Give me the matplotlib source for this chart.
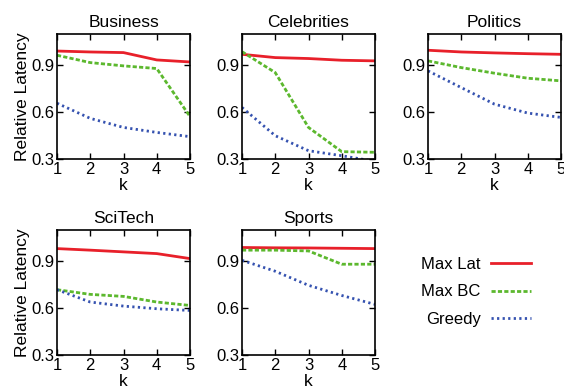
#!/usr/bin/env python3

import matplotlib
matplotlib.use("Agg")
import matplotlib.pyplot as plt
from matplotlib.lines import Line2D

k = [1, 2, 3, 4, 5]
panels = ["Business", "Celebrities", "Politics", "SciTech", "Sports"]

max_lat = {
    "Business": [0.991, 0.985, 0.981, 0.934, 0.921],
    "Celebrities": [0.970, 0.949, 0.943, 0.932, 0.928],
    "Politics": [0.996, 0.985, 0.979, 0.974, 0.970],
    "SciTech": [0.981, 0.971, 0.960, 0.949, 0.917],
    "Sports": [0.988, 0.986, 0.985, 0.983, 0.981],
}
max_bc = {
    "Business": [0.964, 0.917, 0.896, 0.879, 0.572],
    "Celebrities": [0.987, 0.853, 0.502, 0.347, 0.343],
    "Politics": [0.928, 0.885, 0.849, 0.817, 0.800],
    "SciTech": [0.718, 0.688, 0.675, 0.639, 0.617],
    "Sports": [0.971, 0.971, 0.966, 0.881, 0.881],
}
greedy = {
    "Business": [0.657, 0.560, 0.502, 0.470, 0.443],
    "Celebrities": [0.630, 0.449, 0.353, 0.321, 0.285],
    "Politics": [0.864, 0.757, 0.651, 0.594, 0.566],
    "SciTech": [0.718, 0.639, 0.613, 0.596, 0.585],
    "Sports": [0.906, 0.836, 0.746, 0.681, 0.624],
}

series = [
    ("Max Lat", max_lat, "#e8202a", "-", 2.0),
    ("Max BC", max_bc, "#5cb82e", (0, (1.5, 0.8)), 2.0),
    ("Greedy", greedy, "#3552b0", (0, (0.8, 1.2)), 2.0),
]


def main() -> None:
    plt.rcParams["font.family"] = ["Liberation Sans", "DejaVu Sans"]
    plt.rcParams["font.size"] = 12

    fig = plt.figure(figsize=(5.64, 3.89), dpi=100)

    W, H = 564, 389
    lefts = [57, 242, 428]
    tops = [34, 230]
    aw, ah = 133, 125

    boxes = [(lefts[0], tops[0]), (lefts[1], tops[0]), (lefts[2], tops[0]),
             (lefts[0], tops[1]), (lefts[1], tops[1])]

    for i, (name, (x0, y0)) in enumerate(zip(panels, boxes)):
        ax = fig.add_axes([x0 / W, 1 - (y0 + ah) / H, aw / W, ah / H])
        for label, data, color, ls, lw in series:
            ax.plot(k, data[name], color=color, linestyle=ls, linewidth=lw)
        ax.set_xlim(1, 5)
        ax.set_ylim(0.3, 1.1)
        ax.set_xticks(k)
        ax.set_yticks([0.3, 0.6, 0.9])
        ax.set_yticklabels(["0.3", "0.6", "0.9"])
        ax.tick_params(direction="in", top=True, right=True, length=4,
                       width=1, pad=2, labelsize=12)
        for sp in ax.spines.values():
            sp.set_linewidth(1.2)
        ax.set_title(name, fontsize=12.5, pad=5)
        ax.set_xlabel("k", fontsize=12.5, labelpad=1)
        if i in (0, 3):
            ax.set_ylabel("Relative Latency", fontsize=12.5, labelpad=1)

    # legend in the empty slot
    handles = [Line2D([0], [0], color=c, linestyle=ls, linewidth=lw)
               for _, _, c, ls, lw in series]
    labels = [s[0] for s in series]
    fig.legend(handles, labels, loc="center", bbox_to_anchor=(476 / W, 1 - 292 / H),
               frameon=False, markerfirst=False, handlelength=2.4,
               labelspacing=0.75, fontsize=12, handletextpad=0.6)

    plt.savefig("out.png", dpi=100)

    return


if __name__ == "__main__":
    main()
